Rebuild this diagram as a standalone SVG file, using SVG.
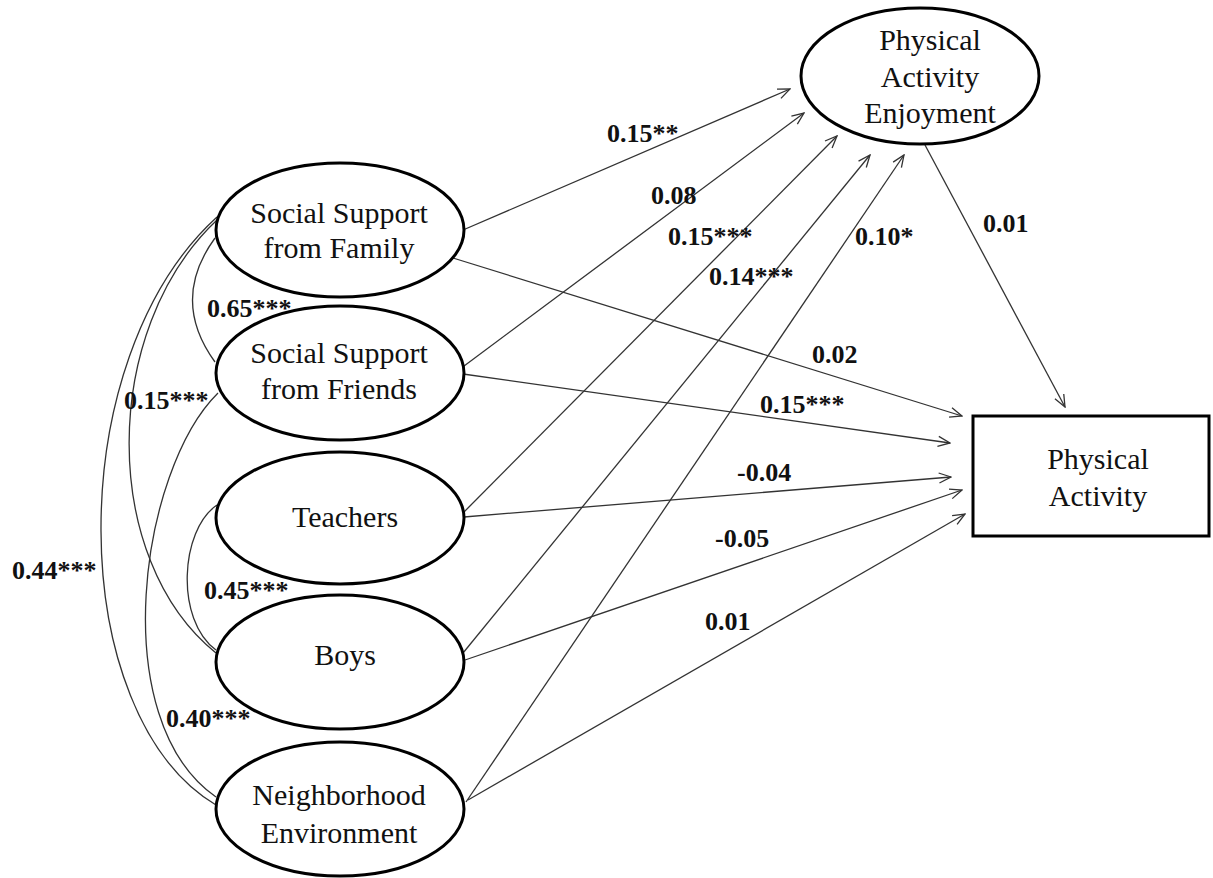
<svg xmlns="http://www.w3.org/2000/svg" width="1213" height="878" viewBox="0 0 1213 878">
<style>
.node{fill:#fff;stroke:#000;stroke-width:3}
.nt{font-family:"Liberation Serif","Times New Roman",serif;font-size:30px;fill:#111;text-anchor:middle}
.lbl{font-family:"Liberation Serif","Times New Roman",serif;font-size:26px;font-weight:bold;fill:#111}
.conn{fill:none;stroke:#333;stroke-width:1.3}
.arr{marker-end:url(#ah)}
</style>
<defs>
<marker id="ah" markerUnits="userSpaceOnUse" markerWidth="14" markerHeight="12" viewBox="0 0 14 12" refX="13" refY="6" orient="auto">
<path d="M1,1 L13,6 L1,11" fill="none" stroke="#333" stroke-width="1.3"/>
</marker>
</defs>
<rect width="1213" height="878" fill="#fff"/>
<g id="connectors">
<path class="conn arr" d="M463,230 L790,89"/>
<path class="conn arr" d="M456,372 L804,113"/>
<path class="conn arr" d="M463,513 L837,136"/>
<path class="conn arr" d="M463,653 L870,155"/>
<path class="conn arr" d="M466,802 L904,155"/>
<path class="conn arr" d="M453,258 L962,416"/>
<path class="conn arr" d="M463,374 L950,443"/>
<path class="conn arr" d="M464,517 L951,477"/>
<path class="conn arr" d="M465,660 L962,490"/>
<path class="conn arr" d="M468,800 L965,514"/>
<path class="conn arr" d="M925,145 L1065,407"/>
<path class="conn" d="M215,238 Q170,300 215,362"/>
<path class="conn" d="M217,217 C60,360 65,715 216,805"/>
<path class="conn" d="M217,220 C100,330 100,560 216,653"/>
<path class="conn" d="M218,393 C140,470 105,720 216,797"/>
<path class="conn" d="M217,505 C180,530 175,620 216,650"/>
</g>
<g id="labels">
<text class="lbl" x="607" y="142">0.15**</text>
<text class="lbl" x="651" y="204">0.08</text>
<text class="lbl" x="668" y="245">0.15***</text>
<text class="lbl" x="709" y="285">0.14***</text>
<text class="lbl" x="855" y="245">0.10*</text>
<text class="lbl" x="983" y="232">0.01</text>
<text class="lbl" x="812" y="363">0.02</text>
<text class="lbl" x="760" y="413">0.15***</text>
<text class="lbl" x="737" y="481">-0.04</text>
<text class="lbl" x="715" y="547">-0.05</text>
<text class="lbl" x="705" y="630">0.01</text>
<text class="lbl" x="207" y="317">0.65***</text>
<text class="lbl" x="124" y="409">0.15***</text>
<text class="lbl" x="12" y="579">0.44***</text>
<text class="lbl" x="204" y="599">0.45***</text>
<text class="lbl" x="166" y="727">0.40***</text>
</g>
<g id="node-family">
<ellipse class="node" cx="340" cy="230" rx="124" ry="67"/>
<text class="nt" x="339" y="223">Social Support</text>
<text class="nt" x="339" y="258">from Family</text>
</g>
<g id="node-friends">
<ellipse class="node" cx="340" cy="373" rx="124" ry="67"/>
<text class="nt" x="339" y="363">Social Support</text>
<text class="nt" x="339" y="399">from Friends</text>
</g>
<g id="node-teachers">
<ellipse class="node" cx="340" cy="518" rx="124" ry="66"/>
<text class="nt" x="345" y="527">Teachers</text>
</g>
<g id="node-boys">
<ellipse class="node" cx="340" cy="662" rx="124" ry="67"/>
<text class="nt" x="345" y="665">Boys</text>
</g>
<g id="node-neighborhood">
<ellipse class="node" cx="340" cy="809" rx="124" ry="67"/>
<text class="nt" x="339" y="805">Neighborhood</text>
<text class="nt" x="339" y="843">Environment</text>
</g>
<g id="node-enjoyment">
<ellipse class="node" cx="920" cy="76" rx="119" ry="68"/>
<text class="nt" x="930" y="50">Physical</text>
<text class="nt" x="930" y="87">Activity</text>
<text class="nt" x="930" y="123">Enjoyment</text>
</g>
<g id="node-pa">
<rect class="node" x="973" y="416" width="236" height="120"/>
<text class="nt" x="1098" y="469">Physical</text>
<text class="nt" x="1098" y="506">Activity</text>
</g>
</svg>
